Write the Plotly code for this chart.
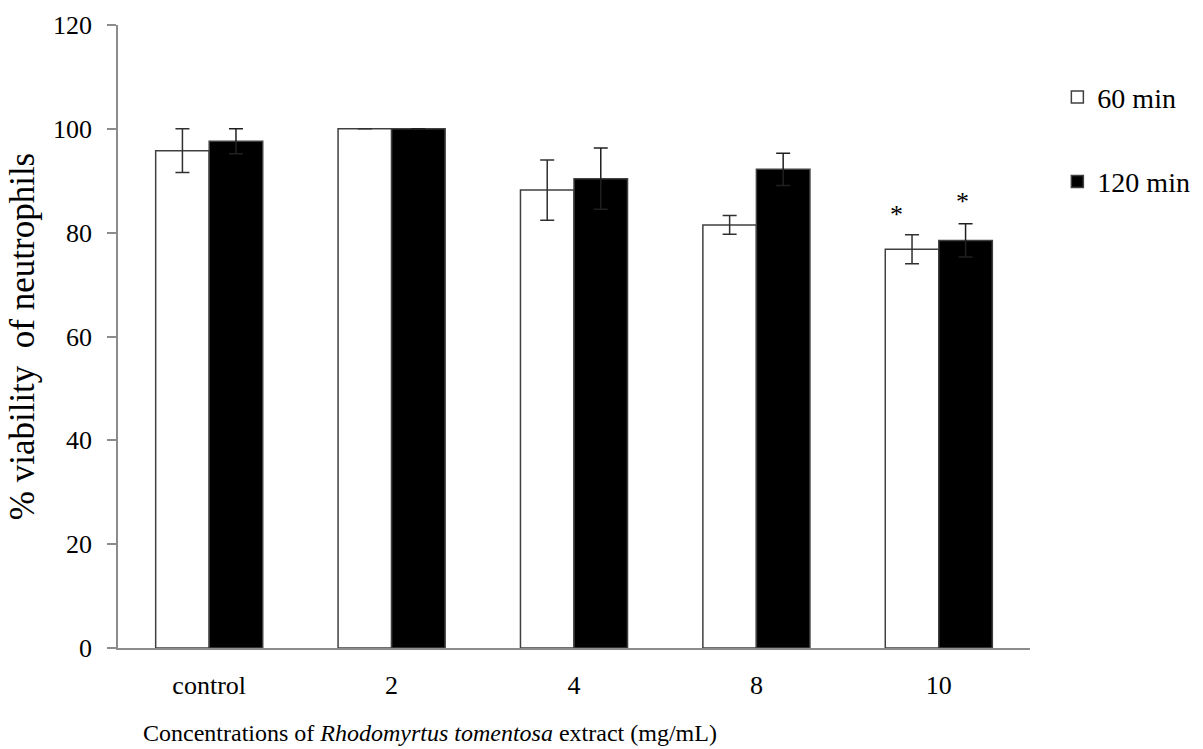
import plotly.graph_objects as go

categories = ["control", "2", "4", "8", "10"]
viab_60 = [95.8, 100.0, 88.2, 81.5, 76.8]
err_60 = [4.2, 0.0, 5.8, 1.8, 2.8]
viab_120 = [97.6, 100.0, 90.4, 92.2, 78.5]
err_120 = [2.4, 0.0, 5.9, 3.1, 3.2]
y_ticks = [0, 20, 40, 60, 80, 100, 120]
signif_category = "10"

FONT = "Liberation Serif"
EDGE = "#404040"

fig = go.Figure()
fig.add_trace(go.Bar(
    x=categories, y=viab_60, name="60 min", legendgroup="a",
    marker=dict(color="white", line=dict(color=EDGE, width=1.5)),
    error_y=dict(type="data", array=err_60, visible=True, color="#303030", thickness=1.5, width=7),
))
fig.add_trace(go.Bar(
    x=categories, y=viab_120, name="120 min", legendgroup="b",
    marker=dict(color="black", line=dict(color=EDGE, width=1.5)),
    error_y=dict(type="data", array=err_120, visible=True, color="#202020", thickness=1.5, width=7),
))

idx = categories.index(signif_category)
fig.add_annotation(x=idx, y=viab_60[idx] + err_60[idx], xshift=-42, yshift=4,
                   text="*", showarrow=False, yanchor="bottom",
                   font=dict(family=FONT, size=26, color="black"))
fig.add_annotation(x=idx, y=viab_120[idx] + err_120[idx], xshift=24, yshift=6,
                   text="*", showarrow=False, yanchor="bottom",
                   font=dict(family=FONT, size=26, color="black"))

fig.add_annotation(xref="paper", yref="paper", x=0.342, y=0, yshift=-85,
                   text="Concentrations of <i>Rhodomyrtus tomentosa</i> extract (mg/mL)",
                   showarrow=False, yanchor="middle", xanchor="center",
                   font=dict(family=FONT, size=24, color="black"))

fig.update_layout(
    width=1203, height=749, autosize=False,
    margin=dict(l=118, r=173, t=25, b=101, autoexpand=False),
    paper_bgcolor="white", plot_bgcolor="white",
    barmode="group", bargap=0.413, bargroupgap=0,
    font=dict(family=FONT, color="black"),
    showlegend=True,
    legend=dict(x=1.03, y=0.924, xanchor="left", yanchor="top",
                font=dict(family=FONT, size=28, color="black"),
                tracegroupgap=45, bgcolor="rgba(0,0,0,0)"),
    xaxis=dict(type="category", range=[-0.5, len(categories) - 0.5],
               showline=True, linecolor="#8c8c8c", linewidth=1.5,
               ticks="", ticklabelstandoff=13, showgrid=False,
               tickfont=dict(family=FONT, size=26, color="black")),
    yaxis=dict(range=[0, 120], tickvals=y_ticks, showline=True, linecolor="#8c8c8c", linewidth=1.5,
               ticks="outside", ticklen=9, tickcolor="#8c8c8c", tickwidth=1.5,
               ticklabelstandoff=10, showgrid=False, zeroline=False,
               tickfont=dict(family=FONT, size=26, color="black"),
               title=dict(text="% viability &nbsp;of neutrophils", standoff=8,
                          font=dict(family=FONT, size=35, color="black"))),
)

fig.write_html("out.html", config={"displayModeBar": False},
               post_script="document.body.style.margin='0';document.body.style.overflow='hidden';")
